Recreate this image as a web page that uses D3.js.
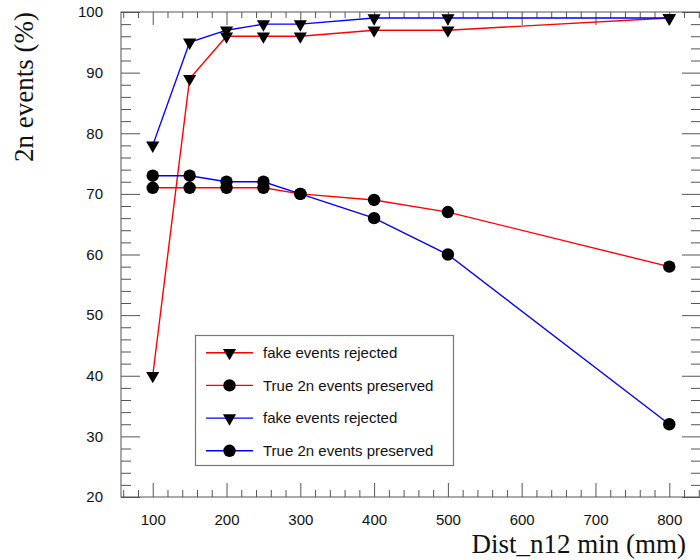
<!DOCTYPE html>
<html>
<head>
<meta charset="utf-8">
<script src="https://cdn.jsdelivr.net/npm/d3@7"></script>
<style>
  html, body { margin: 0; padding: 0; background: #ffffff; }
  svg { display: block; }
</style>
</head>
<body>
<div id="chart"></div>
<script>
// ---- Data ----
const distances = [100, 150, 200, 250, 300, 400, 500, 800];
const redFakeRejected = [40, 89, 96, 96, 96, 97, 97, 99];
const redTruePreserved = [71, 71, 71, 71, 70, 69, 67, 58];
const blueFakeRejected = [78, 95, 97, 98, 98, 99, 99, 99];
const blueTruePreserved = [73, 73, 72, 72, 70, 66, 60, 32];
const xMajorTicks = [100, 200, 300, 400, 500, 600, 700, 800];
const yMajorTicks = [20, 30, 40, 50, 60, 70, 80, 90, 100];
const legendLabels = ["fake events rejected", "True 2n events preserved", "fake events rejected", "True 2n events preserved"];
const xTitle = "Dist_n12 min (mm)";
const yTitle = "2n events (%)";

// ---- Layout ----
const W = 700, H = 560;
const frameL = 121, frameR = 701, frameT = 12, frameB = 497;

const svg = d3.select("#chart").append("svg")
  .attr("width", W).attr("height", H);

const x = d3.scaleLinear().domain([57, 843]).range([frameL, frameR]);
const y = d3.scaleLinear().domain([20, 100]).range([frameB, frameT]);

const xMinor = d3.range(60, 843, 20).filter(v => v % 100 !== 0);
const yMinor = d3.range(20, 100.01, 2).filter(v => v % 10 !== 0);

const axisColor = "#555";
function styleAxis(g) {
  g.select(".domain").remove();
  g.selectAll(".tick line").attr("stroke", axisColor).attr("stroke-width", 1);
}

// ticks: bottom (pointing up)
svg.append("g").attr("transform", `translate(0,${frameB})`)
  .call(d3.axisTop(x).tickValues(xMajorTicks).tickSize(14).tickFormat("")).call(styleAxis);
svg.append("g").attr("transform", `translate(0,${frameB})`)
  .call(d3.axisTop(x).tickValues(xMinor).tickSize(7).tickFormat("")).call(styleAxis);
// top (pointing down)
svg.append("g").attr("transform", `translate(0,${frameT})`)
  .call(d3.axisBottom(x).tickValues(xMajorTicks).tickSize(13).tickFormat("")).call(styleAxis);
svg.append("g").attr("transform", `translate(0,${frameT})`)
  .call(d3.axisBottom(x).tickValues(xMinor).tickSize(6).tickFormat("")).call(styleAxis);
// left (pointing right)
svg.append("g").attr("transform", `translate(${frameL},0)`)
  .call(d3.axisRight(y).tickValues(yMajorTicks).tickSize(19).tickFormat("")).call(styleAxis);
svg.append("g").attr("transform", `translate(${frameL},0)`)
  .call(d3.axisRight(y).tickValues(yMinor).tickSize(10).tickFormat("")).call(styleAxis);
// right (pointing left)
svg.append("g").attr("transform", `translate(${frameR},0)`)
  .call(d3.axisLeft(y).tickValues(yMajorTicks).tickSize(19).tickFormat("")).call(styleAxis);
svg.append("g").attr("transform", `translate(${frameR},0)`)
  .call(d3.axisLeft(y).tickValues(yMinor).tickSize(10).tickFormat("")).call(styleAxis);

// tick labels
const xl = svg.append("g").attr("transform", `translate(0,${frameB})`)
  .call(d3.axisBottom(x).tickValues(xMajorTicks).tickSize(0).tickPadding(17).tickFormat(d3.format("d")));
xl.select(".domain").remove();
xl.selectAll("text").attr("font-family", "Liberation Sans, Arial, sans-serif").attr("font-size", 15).attr("fill", "#111");

const yl = svg.append("g").attr("transform", `translate(${frameL},0)`)
  .call(d3.axisLeft(y).tickValues(yMajorTicks).tickSize(0).tickPadding(18).tickFormat(d3.format("d")));
yl.select(".domain").remove();
yl.selectAll("text").attr("font-family", "Liberation Sans, Arial, sans-serif").attr("font-size", 15).attr("fill", "#111");

// frame
svg.append("rect").attr("x", frameL).attr("y", frameT)
  .attr("width", frameR - frameL).attr("height", frameB - frameT)
  .attr("fill", "none").attr("stroke", axisColor).attr("stroke-width", 1);

// ---- Series ----
const series = [
  { values: redFakeRejected, color: "#ff0000", marker: "tri" },
  { values: redTruePreserved, color: "#ff0000", marker: "dot" },
  { values: blueFakeRejected, color: "#0000ff", marker: "tri" },
  { values: blueTruePreserved, color: "#0000ff", marker: "dot" }
];

const line = d3.line().x(d => x(d[0])).y(d => y(d[1]));
const triPath = d3.symbol().type(d3.symbolTriangle).size(75)();

function drawMarker(g, mk, cx, cy) {
  if (mk === "tri") {
    g.append("path").attr("d", triPath)
      .attr("transform", `translate(${cx},${cy}) rotate(180)`)
      .attr("fill", "#000");
  } else {
    g.append("circle").attr("cx", cx).attr("cy", cy).attr("r", 6.2).attr("fill", "#000");
  }
}

const plot = svg.append("g");
series.forEach(s => {
  const pts = distances.map((d, i) => [d, s.values[i]]);
  plot.append("path").datum(pts).attr("d", line)
    .attr("fill", "none").attr("stroke", s.color).attr("stroke-width", 1.4);
});
series.forEach(s => {
  const pts = distances.map((d, i) => [d, s.values[i]]);
  pts.forEach(p => drawMarker(plot, s.marker, x(p[0]), y(p[1])));
});

// ---- Legend ----
const lg = svg.append("g");
lg.append("rect").attr("x", 195.5).attr("y", 335.5).attr("width", 258).attr("height", 130)
  .attr("fill", "#fff").attr("stroke", "#777").attr("stroke-width", 1.2);
legendLabels.forEach((lab, i) => {
  const cy = 352.7 + i * 32.7;
  const s = series[i];
  lg.append("line").attr("x1", 206).attr("x2", 253).attr("y1", cy).attr("y2", cy)
    .attr("stroke", s.color).attr("stroke-width", 1.4);
  drawMarker(lg, s.marker, 229.5, cy);
  lg.append("text").attr("x", 263).attr("y", cy).attr("dy", "0.35em")
    .attr("font-family", "Liberation Sans, Arial, sans-serif").attr("font-size", 15)
    .attr("fill", "#111").text(lab);
});

// ---- Axis titles ----
svg.append("text").attr("x", 686).attr("y", 553).attr("text-anchor", "end")
  .attr("font-family", "Liberation Serif, Times New Roman, serif").attr("font-size", 27)
  .attr("fill", "#111").text(xTitle);
svg.append("text").attr("transform", "translate(33,12) rotate(-90)").attr("text-anchor", "end")
  .attr("font-family", "Liberation Serif, Times New Roman, serif").attr("font-size", 27)
  .attr("fill", "#111").text(yTitle);
</script>
</body>
</html>
